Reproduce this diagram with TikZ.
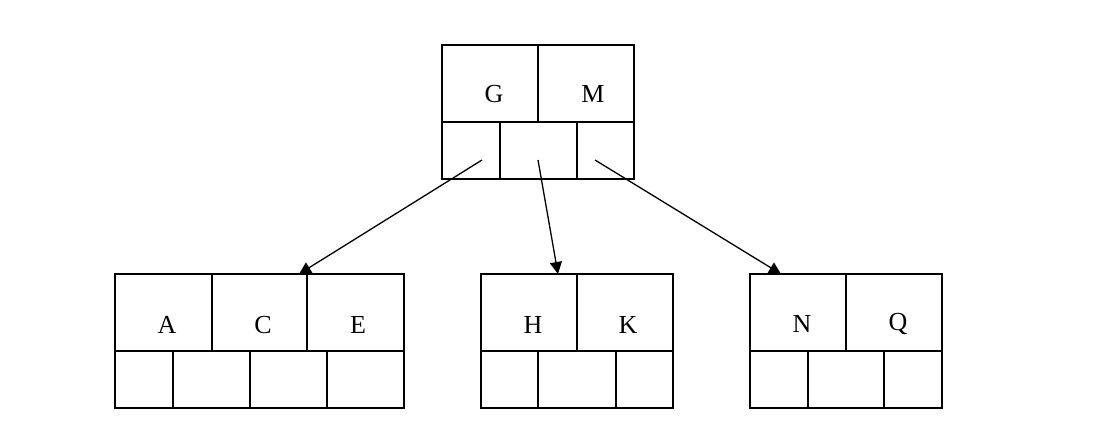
\documentclass[tikz,border=0pt]{standalone}
\usepackage{fontspec}
\setmainfont{Liberation Serif}
\usetikzlibrary{arrows.meta}
\begin{document}
\begin{tikzpicture}[x=1pt,y=-1pt,line width=1.6pt,
  box/.style={draw,rectangle,inner sep=0pt,outer sep=0pt,anchor=north west},
  lbl/.style={font=\fontsize{26}{26}\selectfont,inner sep=0pt},
  arr/.style={-{Triangle[length=12pt,width=12pt]},line width=1.3pt}]
\useasboundingbox (0,0) rectangle (1108,434);
\fill[white] (0,0) rectangle (1108,434);
% root node
\node[box,minimum width=192pt,minimum height=134pt] (root) at (442,45) {};
\draw (538,45) -- (538,122);
\draw (442,122) -- (634,122);
\draw (500,122) -- (500,179);
\draw (577,122) -- (577,179);
\node[lbl] (g) at (494,94) {G};
\node[lbl] (m) at (593,94) {M};
% left child
\node[box,minimum width=289pt,minimum height=134pt] (left) at (115,274) {};
\draw (212,274) -- (212,351);
\draw (307,274) -- (307,351);
\draw (115,351) -- (404,351);
\draw (173,351) -- (173,408);
\draw (250,351) -- (250,408);
\draw (327,351) -- (327,408);
\node[lbl] (a) at (167,325) {A};
\node[lbl] (c) at (263,325) {C};
\node[lbl] (e) at (358,325) {E};
% middle child
\node[box,minimum width=192pt,minimum height=134pt] (mid) at (481,274) {};
\draw (577,274) -- (577,351);
\draw (481,351) -- (673,351);
\draw (538,351) -- (538,408);
\draw (616,351) -- (616,408);
\node[lbl] (h) at (533,325) {H};
\node[lbl] (k) at (628,325) {K};
% right child
\node[box,minimum width=192pt,minimum height=134pt] (right) at (750,274) {};
\draw (846,274) -- (846,351);
\draw (750,351) -- (942,351);
\draw (808,351) -- (808,408);
\draw (884,351) -- (884,408);
\node[lbl] (n) at (802,324) {N};
\node[lbl] (q) at (898,324) {Q};
% pointers
\coordinate (p1) at (482,160);
\coordinate (p2) at (538,160);
\coordinate (p3) at (595,160);
\coordinate (t1) at (299,274);
\coordinate (t2) at (558,274);
\coordinate (t3) at (781,274);
\draw[arr] (p1) -- (t1);
\draw[arr] (p2) -- (t2);
\draw[arr] (p3) -- (t3);
\end{tikzpicture}
\end{document}
